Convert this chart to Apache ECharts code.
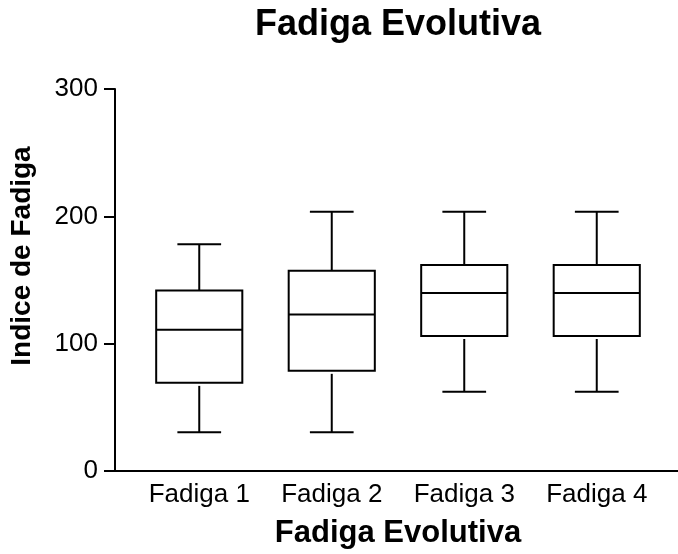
<!doctype html>
<html lang="pt">
<head>
    <meta charset="utf-8" />
    <title>Fadiga Evolutiva</title>
    <script src="https://cdn.jsdelivr.net/npm/echarts@6/dist/echarts.min.js"></script>
    <style type="text/css">
        html, body { margin: 0; padding: 0; background: #fff; }
        #chart { width: 678px; height: 554px; }
    </style>
</head>
<body>
<div id="chart"></div>
<script>
    /* dados */
    var categorias = ['Fadiga 1', 'Fadiga 2', 'Fadiga 3', 'Fadiga 4'];
    var minimos   = [29, 29, 61, 61];
    var q1s       = [68, 77.5, 105, 105];
    var medianas  = [110, 122, 139, 139];
    var q3s       = [141, 156.5, 161, 161];
    var maximos   = [177.5, 203, 203, 203];
    var yTicks    = [0, 100, 200, 300];

    var FONT = 'Liberation Sans, Arial, Helvetica, sans-serif';

    var boxData = [];
    for (var i = 0; i < categorias.length; i++) {
        boxData.push([i, minimos[i], q1s[i], medianas[i], q3s[i], maximos[i]]);
    }

    /* caixa + bigodes com tampas mais estreitas que a caixa */
    function renderBox(params, api) {
        var x = api.value(0);
        var band = api.size([1, 0])[0];
        var bw = band * 0.65 / 2;
        var cw = band * 0.33 / 2;
        var pMin = api.coord([x, api.value(1)]);
        var pQ1 = api.coord([x, api.value(2)]);
        var pMed = api.coord([x, api.value(3)]);
        var pQ3 = api.coord([x, api.value(4)]);
        var pMax = api.coord([x, api.value(5)]);
        var cx = pMed[0];
        var st = { stroke: '#000', lineWidth: 2, fill: null };
        return {
            type: 'group',
            children: [
                { type: 'rect', shape: { x: cx - bw, y: pQ3[1], width: bw * 2, height: pQ1[1] - pQ3[1] }, style: st },
                { type: 'line', shape: { x1: cx - bw, y1: pMed[1], x2: cx + bw, y2: pMed[1] }, style: st },
                { type: 'line', shape: { x1: cx, y1: pQ3[1], x2: cx, y2: pMax[1] }, style: st },
                { type: 'line', shape: { x1: cx, y1: pQ1[1] + 3, x2: cx, y2: pMin[1] }, style: st },
                { type: 'line', shape: { x1: cx - cw, y1: pMax[1], x2: cx + cw, y2: pMax[1] }, style: st },
                { type: 'line', shape: { x1: cx - cw, y1: pMin[1], x2: cx + cw, y2: pMin[1] }, style: st }
            ]
        };
    }

    var chart = echarts.init(document.getElementById('chart'));
    var option = {
        animation: false,
        backgroundColor: '#fff',
        title: {
            text: 'Fadiga Evolutiva',
            left: 250,
            top: 2,
            textStyle: { fontFamily: FONT, fontSize: 36, fontWeight: 'bold', color: '#000' }
        },
        grid: [
            { left: 112, right: 0, top: 89, bottom: 83 },
            { left: 133, right: 15, top: 89, bottom: 83 }
        ],
        xAxis: [
            {
                gridIndex: 0, type: 'value', min: 0, max: 1,
                axisLine: { show: true, lineStyle: { color: '#000', width: 2 } },
                axisTick: { show: false }, axisLabel: { show: false }, splitLine: { show: false }
            },
            {
                gridIndex: 1, type: 'category', data: categorias, boundaryGap: true,
                axisLine: { show: false }, axisTick: { show: false }, splitLine: { show: false },
                axisLabel: { margin: 13, color: '#000', fontFamily: FONT, fontSize: 26 },
                name: 'Fadiga Evolutiva', nameLocation: 'middle', nameGap: 49,
                nameTextStyle: { color: '#000', fontFamily: FONT, fontSize: 31, fontWeight: 'bold' }
            }
        ],
        yAxis: [
            {
                gridIndex: 0, type: 'value', min: yTicks[0], max: yTicks[yTicks.length - 1], interval: 100,
                axisLine: { show: true, lineStyle: { color: '#000', width: 2 } },
                axisTick: { show: true, length: 11, lineStyle: { color: '#000', width: 2 } },
                axisLabel: { margin: 17, color: '#000', fontFamily: FONT, fontSize: 26 },
                splitLine: { show: false },
                name: 'Indice de Fadiga', nameLocation: 'middle', nameGap: 79,
                nameTextStyle: { color: '#000', fontFamily: FONT, fontSize: 28, fontWeight: 'bold', padding: [0, 0, 0, 48] }
            },
            {
                gridIndex: 1, type: 'value', min: yTicks[0], max: yTicks[yTicks.length - 1],
                show: false
            }
        ],
        series: [{
            type: 'custom',
            xAxisIndex: 1,
            yAxisIndex: 1,
            renderItem: renderBox,
            encode: { x: 0, y: [1, 2, 3, 4, 5] },
            data: boxData
        }]
    };
    chart.setOption(option);
</script>
</body>
</html>
